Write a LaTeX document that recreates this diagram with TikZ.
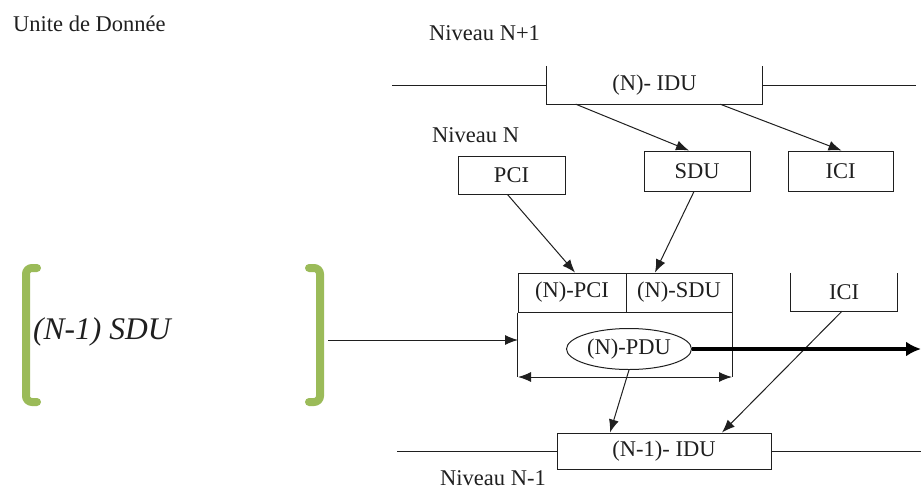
\documentclass[tikz,border=0pt]{standalone}
\usepackage{fontspec}
\setmainfont{Liberation Serif}
\usetikzlibrary{arrows.meta,shapes.geometric}
\definecolor{bracketgreen}{HTML}{9BBB59}
\definecolor{ink}{gray}{0.12}
\begin{document}
\begin{tikzpicture}[x=1pt,y=-1pt,
  txt/.style={font=\fontsize{22.5}{26}\selectfont, text=ink, inner sep=0pt},
  box/.style={txt, draw=ink, line width=1pt},
  frame/.style={draw=ink, line width=1pt},
  flow/.style={draw=ink, line width=1pt, -{Latex[length=13pt,width=10pt]}},
  span/.style={draw=ink, line width=1pt, {Latex[length=13pt,width=10pt]}-{Latex[length=13pt,width=10pt]}},
  bigflow/.style={draw=black, line width=4.5pt, -{Latex[length=15pt,width=15pt]}},
  bracket/.style={draw=bracketgreen, line width=8pt, rounded corners=6pt, line cap=round}]
\useasboundingbox (0,0) rectangle (921,488);

% titles and level labels
\node[txt, anchor=base west] (title) at (13,31) {Unite de Donnée};
\node[txt, anchor=base west] (lvlup) at (429,40) {Niveau N+1};
\node[txt, anchor=base west] (lvl) at (432,142) {Niveau N};
\node[txt, anchor=base west] (lvldown) at (440,485) {Niveau N-1};

% level N+1 interface
\node[txt, minimum width=215pt, minimum height=38pt] (idu) at (654.5,85) {(N)- IDU};
\draw[frame] (idu.north west) -- (idu.south west) -- (idu.south east) -- (idu.north east);
\coordinate (upl) at (392,85);
\coordinate (upr) at (916,85);
\draw[frame] (upl) -- (idu.west);
\draw[frame] (idu.east) -- (upr);

% level N inputs
\node[box, minimum width=107pt, minimum height=38pt] (pci) at (511.5,175) {PCI};
\node[box, minimum width=106pt, minimum height=40pt] (sdu) at (697,171) {SDU};
\node[box, minimum width=105pt, minimum height=40pt] (ici) at (840.5,171) {ICI};

\draw[flow] ([xshift=29pt]idu.south west) -- ([xshift=-8pt]sdu.north);
\draw[flow] ([xshift=-42pt]idu.south east) -- ([xshift=1pt]ici.north);

% protocol data unit
\node[box, minimum width=108pt, minimum height=39pt] (npci) at (572,292.5) {(N)-PCI};
\node[box, minimum width=106pt, minimum height=39pt] (nsdu) at (679,292.5) {(N)-SDU};
\coordinate (bl) at (518,377);
\coordinate (br) at (732,377);
\draw[frame] (npci.south west) -- (npci.south west |- bl);
\draw[frame] (nsdu.south east) -- (nsdu.south east |- br);
\draw[span] (bl) -- (br);
\node[txt, draw=ink, line width=1pt, ellipse, minimum width=125pt, minimum height=41pt, inner sep=0pt] (pdu) at (629,349) {(N)-PDU};

\draw[flow] ([xshift=-4pt]pci.south) -- ([xshift=3pt]npci.north);
\draw[flow] ([xshift=-3pt]sdu.south) -- ([xshift=-24pt]nsdu.north);

% lower interface control information
\node[txt, minimum width=106pt, minimum height=38pt] (icil) at (844,292) {ICI};
\draw[frame] (icil.north west) -- (icil.south west) -- (icil.south east) -- (icil.north east);

% level N-1 interface
\node[box, minimum width=214pt, minimum height=36pt] (lidu) at (664,451) {(N-1)- IDU};
\coordinate (lol) at (397,451);
\coordinate (lor) at (921,451);
\draw[frame] (lol) -- (lidu.west);
\draw[frame] (lidu.east) -- (lor);

\draw[flow] (pdu.south) -- ([xshift=-54pt]lidu.north);
\draw[flow] ([xshift=-2pt]icil.south) -- ([xshift=58pt]lidu.north);

% outgoing PDU
\coordinate (out) at (921,349);
\draw[bigflow] (pdu.east) -- (out);

% (N-1) SDU bracket
\draw[bracket] (37,268) -- (26,268) -- (26,402) -- (37,402);
\draw[bracket] (309,268) -- (320,268) -- (320,402) -- (309,402);
\node[font=\fontsize{31.5}{36}\selectfont\itshape, text=ink, inner sep=0pt, anchor=west] (nsdu1) at (33,332) {(N-1) SDU};
\coordinate (brk) at (328,340);
\coordinate (boxin) at (518,340);
\draw[flow] (brk) -- (boxin);
\end{tikzpicture}
\end{document}
